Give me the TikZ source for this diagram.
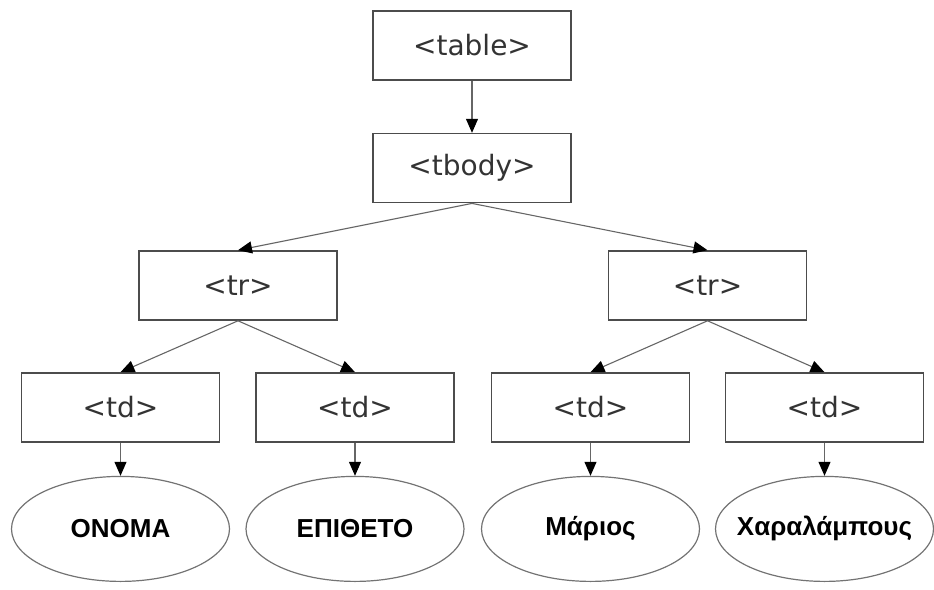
\documentclass[tikz,border=0pt]{standalone}
\usepackage{fontspec}
\newfontfamily\tagfont{DejaVu Sans}
\newfontfamily\leaffont{Liberation Sans}
\usetikzlibrary{arrows.meta,positioning,shapes.geometric}

\begin{document}
\begin{tikzpicture}[
  x=1pt, y=-1pt,
  tag/.style={draw=black!70, line width=1.6pt, inner sep=0pt, minimum width=198pt, minimum height=69pt,
    text=black!80, font=\tagfont\fontsize{28}{32}\selectfont},
  leaf/.style={ellipse, draw=black!55, line width=1.2pt, inner xsep=-16pt, inner ysep=0pt,
    minimum width=218pt, minimum height=105pt,
    font=\leaffont\bfseries\fontsize{26}{30}\selectfont},
  arr/.style={-{Triangle[length=14pt,width=12pt,color=black]}, draw=black!60, line width=1.1pt}
]
\useasboundingbox (0,0) rectangle (934,589);

% document tree
\node[tag] (table) at (472,45.5) {<table>};
\node[tag, below=52pt of table] (tbody) {<tbody>};
\node[tag] (trA) at (238,285.5) {<tr>};
\node[tag] (trB) at (707.5,285.5) {<tr>};
\node[tag] (tdA) at (120.5,407.5) {<td>};
\node[tag] (tdB) at (355,407.5) {<td>};
\node[tag] (tdC) at (590.5,407.5) {<td>};
\node[tag] (tdD) at (824.5,407.5) {<td>};

% text contents of the cells
\node[leaf, below=33pt of tdA] (nameA) {ΟΝΟΜΑ};
\node[leaf, below=33pt of tdB] (nameB) {ΕΠΙΘΕΤΟ};
\node[leaf, below=33pt of tdC] (nameC) {Μάριος};
\node[leaf, below=33pt of tdD] (nameD) {Χαραλάμπους};

\draw[arr] (table.south) -- (tbody.north);
\draw[arr] (tbody.south) -- (trA.north);
\draw[arr] (tbody.south) -- (trB.north);
\draw[arr] (trA.south) -- (tdA.north);
\draw[arr] (trA.south) -- (tdB.north);
\draw[arr] (trB.south) -- (tdC.north);
\draw[arr] (trB.south) -- (tdD.north);
\draw[arr] (tdA.south) -- (nameA.north);
\draw[arr] (tdB.south) -- (nameB.north);
\draw[arr] (tdC.south) -- (nameC.north);
\draw[arr] (tdD.south) -- (nameD.north);
\end{tikzpicture}
\end{document}
